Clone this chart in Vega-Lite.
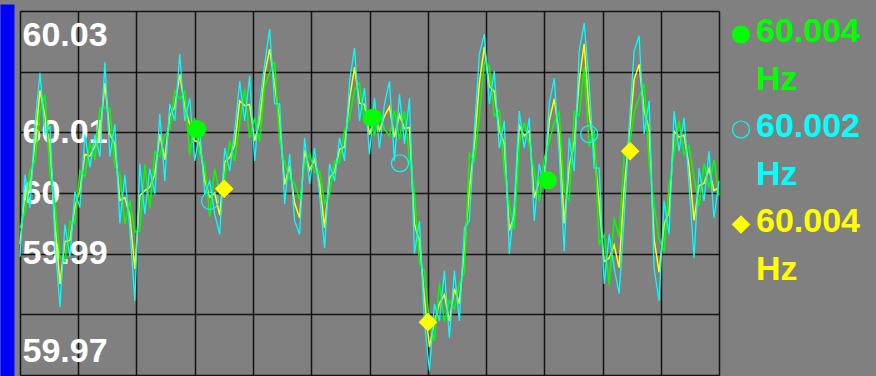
{
"$schema": "https://vega.github.io/schema/vega-lite/v6.json",
"width": 699, "height": 364,
"autosize": {"type": "none"},
"padding": {"left": 20, "top": 11, "right": 157, "bottom": 1},
"background": "#808080",
"config": {"view": {"stroke": null}, "font": "Liberation Sans"},
"datasets": {
"series": [
{"t":0,"m1":59.9942,"m2":59.9895,"m3":59.9916},
{"t":1,"m1":59.9969,"m2":60.003,"m3":60.0002},
{"t":2,"m1":60.0037,"m2":59.9976,"m3":60.0004},
{"t":3,"m1":60.0052,"m2":60.0112,"m3":60.0084},
{"t":4,"m1":60.0135,"m2":60.0198,"m3":60.0169},
{"t":5,"m1":60.0162,"m2":60.0098,"m3":60.0127},
{"t":6,"m1":60.0031,"m2":60.011,"m3":60.0075},
{"t":7,"m1":59.9982,"m2":59.9922,"m3":59.995},
{"t":8,"m1":59.9893,"m2":59.9812,"m3":59.985},
{"t":9,"m1":59.9887,"m2":59.9948,"m3":59.992},
{"t":10,"m1":59.9954,"m2":59.9895,"m3":59.9922},
{"t":11,"m1":59.9949,"m2":60.0002,"m3":59.9977},
{"t":12,"m1":60.0037,"m2":59.9976,"m3":60.0004},
{"t":13,"m1":60.0027,"m2":60.0096,"m3":60.0064},
{"t":14,"m1":60.0083,"m2":60.0042,"m3":60.0061},
{"t":15,"m1":60.0055,"m2":60.0096,"m3":60.0077},
{"t":16,"m1":60.014,"m2":60.006,"m3":60.0097},
{"t":17,"m1":60.0141,"m2":60.0216,"m3":60.0181},
{"t":18,"m1":60.014,"m2":60.006,"m3":60.0097},
{"t":19,"m1":60.0044,"m2":60.0113,"m3":60.0081},
{"t":20,"m1":60.0031,"m2":59.995,"m3":59.9988},
{"t":21,"m1":59.9949,"m2":60.003,"m3":59.9992},
{"t":22,"m1":59.9987,"m2":59.9942,"m3":59.9963},
{"t":23,"m1":59.9936,"m2":59.9822,"m3":59.9875},
{"t":24,"m1":59.9937,"m2":60.0048,"m3":59.9996},
{"t":25,"m1":60.0047,"m2":59.9965,"m3":60.0004},
{"t":26,"m1":59.9975,"m2":60.004,"m3":60.001},
{"t":27,"m1":60.0068,"m2":59.9998,"m3":60.0031},
{"t":28,"m1":60.006,"m2":60.013,"m3":60.0097},
{"t":29,"m1":60.0095,"m2":60.002,"m3":60.0055},
{"t":30,"m1":60.0105,"m2":60.0147,"m3":60.0127},
{"t":31,"m1":60.0168,"m2":60.0119,"m3":60.0142},
{"t":32,"m1":60.0155,"m2":60.0229,"m3":60.0195},
{"t":33,"m1":60.0168,"m2":60.0119,"m3":60.0142},
{"t":34,"m1":60.0062,"m2":60.0156,"m3":60.0113},
{"t":35,"m1":60.0124,"m2":60.0053,"m3":60.0086},
{"t":36,"m1":60.0062,"m2":60.0102,"m3":60.0083},
{"t":37,"m1":60.0048,"m2":59.9998,"m3":60.0021},
{"t":38,"m1":59.9961,"m2":60.002,"m3":59.9993},
{"t":39,"m1":60.004,"m2":59.9965,"m3":60},
{"t":40,"m1":59.9998,"m2":59.9932,"m3":59.9963},
{"t":41,"m1":60.0025,"m2":60.0074,"m3":60.0051},
{"t":42,"m1":60.0086,"m2":60.0036,"m3":60.0059},
{"t":43,"m1":60.0053,"m2":60.0102,"m3":60.0079},
{"t":44,"m1":60.0115,"m2":60.0184,"m3":60.0152},
{"t":45,"m1":60.0172,"m2":60.0119,"m3":60.0144},
{"t":46,"m1":60.0091,"m2":60.0193,"m3":60.0146},
{"t":47,"m1":60.0124,"m2":60.0053,"m3":60.0086},
{"t":48,"m1":60.0085,"m2":60.0147,"m3":60.0119},
{"t":49,"m1":60.0176,"m2":60.0212,"m3":60.0196},
{"t":50,"m1":60.0198,"m2":60.027,"m3":60.0237},
{"t":51,"m1":60.0216,"m2":60.0147,"m3":60.0179},
{"t":52,"m1":60.0085,"m2":60.0147,"m3":60.0119},
{"t":53,"m1":60.0051,"m2":59.9982,"m3":60.0014},
{"t":54,"m1":60.0022,"m2":60.0064,"m3":60.0044},
{"t":55,"m1":60.0016,"m2":59.9954,"m3":59.9983},
{"t":56,"m1":59.9989,"m2":59.9932,"m3":59.9959},
{"t":57,"m1":60.0046,"m2":60.0091,"m3":60.007},
{"t":58,"m1":60.0065,"m2":60.0015,"m3":60.0038},
{"t":59,"m1":60.0034,"m2":60.0074,"m3":60.0055},
{"t":60,"m1":60.0036,"m2":59.9998,"m3":60.0016},
{"t":61,"m1":59.9983,"m2":59.9909,"m3":59.9943},
{"t":62,"m1":59.9998,"m2":60.0048,"m3":60.0025},
{"t":63,"m1":60.0053,"m2":60.002,"m3":60.0035},
{"t":64,"m1":60.005,"m2":60.0091,"m3":60.0072},
{"t":65,"m1":60.0103,"m2":60.0053,"m3":60.0076},
{"t":66,"m1":60.0122,"m2":60.0184,"m3":60.0155},
{"t":67,"m1":60.017,"m2":60.0239,"m3":60.0207},
{"t":68,"m1":60.0181,"m2":60.0119,"m3":60.0148},
{"t":69,"m1":60.0116,"m2":60.0173,"m3":60.0146},
{"t":70,"m1":60.0133,"m2":60.0064,"m3":60.0096},
{"t":71,"m1":60.0094,"m2":60.0156,"m3":60.0127},
{"t":72,"m1":60.0135,"m2":60.0074,"m3":60.0103},
{"t":73,"m1":60.0105,"m2":60.0147,"m3":60.0127},
{"t":74,"m1":60.0094,"m2":60.0184,"m3":60.0142},
{"t":75,"m1":60.0136,"m2":60.0053,"m3":60.0092},
{"t":76,"m1":60.0089,"m2":60.0163,"m3":60.0129},
{"t":77,"m1":60.0135,"m2":60.0081,"m3":60.0106},
{"t":78,"m1":60.0054,"m2":60.0156,"m3":60.0108},
{"t":79,"m1":60.0002,"m2":59.99,"m3":59.9948},
{"t":80,"m1":59.9884,"m2":59.9954,"m3":59.9921},
{"t":81,"m1":59.9872,"m2":59.9789,"m3":59.9827},
{"t":82,"m1":59.9789,"m2":59.9707,"m3":59.9746},
{"t":83,"m1":59.9756,"m2":59.9817,"m3":59.9788},
{"t":84,"m1":59.9851,"m2":59.9789,"m3":59.9818},
{"t":85,"m1":59.9788,"m2":59.9872,"m3":59.9832},
{"t":86,"m1":59.9823,"m2":59.9761,"m3":59.9789},
{"t":87,"m1":59.9809,"m2":59.9872,"m3":59.9842},
{"t":88,"m1":59.9851,"m2":59.9789,"m3":59.9818},
{"t":89,"m1":59.9868,"m2":59.9942,"m3":59.9908},
{"t":90,"m1":60.0065,"m2":59.9954,"m3":60.0006},
{"t":91,"m1":60.0053,"m2":60.0102,"m3":60.0079},
{"t":92,"m1":60.0126,"m2":60.0229,"m3":60.0181},
{"t":93,"m1":60.0216,"m2":60.0262,"m3":60.0241},
{"t":94,"m1":60.0209,"m2":60.0147,"m3":60.0176},
{"t":95,"m1":60.0127,"m2":60.0201,"m3":60.0167},
{"t":96,"m1":60.0136,"m2":60.0074,"m3":60.0103},
{"t":97,"m1":60.0036,"m2":60.0119,"m3":60.0081},
{"t":98,"m1":59.9981,"m2":59.99,"m3":59.9938},
{"t":99,"m1":59.994,"m2":59.9982,"m3":59.9962},
{"t":100,"m1":60.0082,"m2":60.0135,"m3":60.0111},
{"t":101,"m1":60.0116,"m2":60.0074,"m3":60.0094},
{"t":102,"m1":60.0079,"m2":60.0124,"m3":60.0103},
{"t":103,"m1":60.0037,"m2":59.9954,"m3":59.9992},
{"t":104,"m1":59.9986,"m2":60.0048,"m3":60.002},
{"t":105,"m1":60.0057,"m2":60.0008,"m3":60.0031},
{"t":106,"m1":60.0085,"m2":60.0147,"m3":60.0119},
{"t":107,"m1":60.0116,"m2":60.0189,"m3":60.0155},
{"t":108,"m1":60.0133,"m2":60.0064,"m3":60.0096},
{"t":109,"m1":60.0003,"m2":59.9904,"m3":59.995},
{"t":110,"m1":59.9988,"m2":60.0091,"m3":60.0044},
{"t":111,"m1":60.0135,"m2":60.0036,"m3":60.0082},
{"t":112,"m1":60.0127,"m2":60.0234,"m3":60.0185},
{"t":113,"m1":60.0208,"m2":60.028,"m3":60.0246},
{"t":114,"m1":60.0076,"m2":60.0179,"m3":60.0131},
{"t":115,"m1":60.0104,"m2":60.0041,"m3":60.0071},
{"t":116,"m1":59.9916,"m2":60.0041,"m3":59.9983},
{"t":117,"m1":59.9931,"m2":59.985,"m3":59.9887},
{"t":118,"m1":59.9849,"m2":59.9932,"m3":59.9893},
{"t":119,"m1":59.9959,"m2":59.9876,"m3":59.9914},
{"t":120,"m1":59.9927,"m2":59.9834,"m3":59.9877},
{"t":121,"m1":60.0063,"m2":59.9959,"m3":60.0007},
{"t":122,"m1":60.0075,"m2":60.0107,"m3":60.0093},
{"t":123,"m1":60.0132,"m2":60.0234,"m3":60.0187},
{"t":124,"m1":60.0158,"m2":60.0259,"m3":60.0212},
{"t":125,"m1":60.018,"m2":60.0097,"m3":60.0136},
{"t":126,"m1":60.005,"m2":60.0152,"m3":60.0105},
{"t":127,"m1":59.998,"m2":59.9876,"m3":59.9924},
{"t":128,"m1":59.9924,"m2":59.9822,"m3":59.9869},
{"t":129,"m1":59.9903,"m2":59.9987,"m3":59.9948},
{"t":130,"m1":60.0014,"m2":59.9932,"m3":59.9969},
{"t":131,"m1":60.0065,"m2":60.0135,"m3":60.0102},
{"t":132,"m1":60.0119,"m2":60.0069,"m3":60.0092},
{"t":133,"m1":60.0063,"m2":60.0124,"m3":60.0095},
{"t":134,"m1":60.0077,"m2":60.0015,"m3":60.0044},
{"t":135,"m1":60.0025,"m2":59.9893,"m3":59.9955},
{"t":136,"m1":59.9979,"m2":60.0041,"m3":60.0012},
{"t":137,"m1":60.0049,"m2":59.9987,"m3":60.0016},
{"t":138,"m1":60.0008,"m2":60.0069,"m3":60.004},
{"t":139,"m1":60.0055,"m2":59.9959,"m3":60.0004},
{"t":140,"m1":59.9996,"m2":60.002,"m3":60.0009}
],
"markers": [
{"series":"m1","t":35.45,"v":60.0105},
{"series":"m1","t":70.5,"v":60.0124},
{"series":"m1","t":105.7,"v":60.0021},
{"series":"m2","t":38.05,"v":59.9987},
{"series":"m2","t":76.1,"v":60.0049},
{"series":"m2","t":114.0,"v":60.0097},
{"series":"m3","t":40.9,"v":60.0007},
{"series":"m3","t":81.7,"v":59.9787},
{"series":"m3","t":122.2,"v":60.0069}
]
},
"layer": [
{
"data": {"name": "series"},
"mark": {"type": "line", "color": "#ffff00", "strokeWidth": 1.5},
"encoding": {
"x": {"field": "t", "type": "quantitative",
"scale": {"domain": [0, 140], "nice": false, "zero": false},
"axis": {"values": [0, 11.667, 23.333, 35, 46.667, 58.333, 70, 81.667, 93.333, 105, 116.667, 128.333, 140],
"labels": false, "ticks": false, "domain": false, "title": null,
"grid": true, "gridColor": "#000000", "gridWidth": 1.5, "gridOpacity": 0.85}},
"y": {"field": "m3", "type": "quantitative",
"scale": {"domain": [59.97, 60.03], "nice": false, "zero": false},
"axis": {"values": [59.97, 59.98, 59.99, 60, 60.01, 60.02, 60.03],
"title": null, "grid": true, "gridColor": "#000000", "gridWidth": 1.5, "gridOpacity": 0.85,
"ticks": false, "tickSize": 0,
"domain": true, "domainColor": "#0000ff", "domainWidth": 14, "domainCap": "square", "offset": 13,
"labelAlign": "left", "labelPadding": -15,
"labelFlush": true, "labelFlushOffset": -7, "labelOverlap": false,
"labelFont": "Liberation Sans", "labelFontSize": 34, "labelFontWeight": "bold", "labelColor": "#ffffff",
"labelExpr": "datum.value == 60.02 || datum.value == 59.98 ? '' : '' + datum.value"}}
}
},
{
"data": {"name": "series"},
"mark": {"type": "line", "color": "#00ff00", "strokeWidth": 1.5},
"encoding": {
"x": {"field": "t", "type": "quantitative"},
"y": {"field": "m1", "type": "quantitative"}
}
},
{
"data": {"name": "series"},
"mark": {"type": "line", "color": "#00ffff", "strokeWidth": 1.3},
"encoding": {
"x": {"field": "t", "type": "quantitative"},
"y": {"field": "m2", "type": "quantitative"}
}
},
{
"mark": {"type": "rule", "color": "#000000", "strokeDash": [5, 3], "strokeWidth": 1.2, "clip": false},
"encoding": {"x": {"datum": 140.7, "type": "quantitative"}}
},
{
"data": {"name": "markers"},
"mark": {"type": "point", "size": 289, "strokeWidth": 1.2, "opacity": 1},
"encoding": {
"x": {"field": "t", "type": "quantitative"},
"y": {"field": "v", "type": "quantitative"},
"shape": {"field": "series", "type": "nominal",
"scale": {"domain": ["m1", "m2", "m3"], "range": ["circle", "circle", "diamond"]},
"legend": {"title": null, "orient": "none", "legendX": 704, "legendY": 6.5, "padding": 0,
"symbolSize": 289, "symbolStrokeWidth": 1.2, "rowPadding": 12, "labelOffset": -2,
"labelFont": "Liberation Sans", "labelFontSize": 34, "labelFontWeight": "bold", "labelLimit": 300,
"labelBaseline": "top",
"labelExpr": "datum.value == 'm2' ? ['60.002', 'Hz'] : ['60.004', 'Hz']",
"encoding": {"labels": {
"fill": {"value": {"expr": "datum.value == 'm1' ? '#00ff00' : datum.value == 'm2' ? '#00ffff' : '#ffff00'"}},
"lineHeight": {"value": 47.6},
"dy": {"value": -19.5}}}}},
"fill": {"field": "series", "type": "nominal",
"scale": {"domain": ["m1", "m2", "m3"], "range": ["#00ff00", "transparent", "#ffff00"]},
"legend": {"title": null}},
"stroke": {"field": "series", "type": "nominal",
"scale": {"domain": ["m1", "m2", "m3"], "range": ["#00ff00", "#00ffff", "#ffff00"]},
"legend": {"title": null}}
}
}
]
}
